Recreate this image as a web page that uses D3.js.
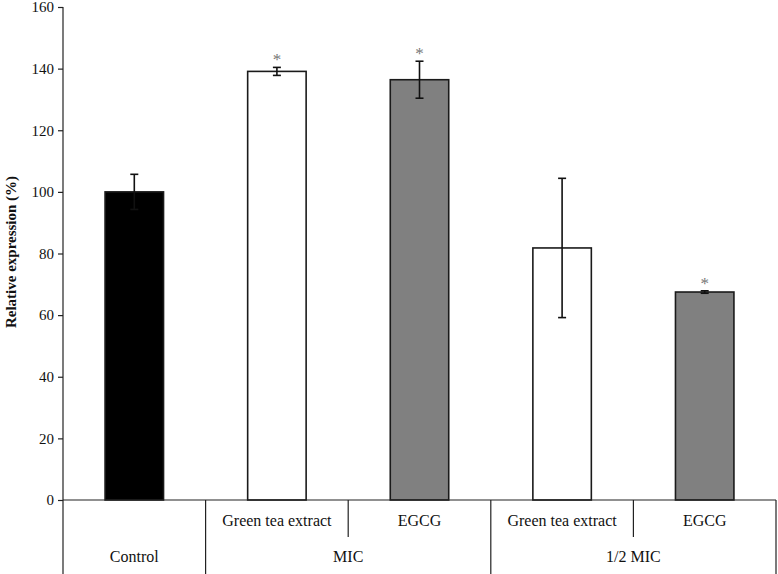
<!DOCTYPE html>
<html>
<head>
<meta charset="utf-8">
<script src="https://cdn.jsdelivr.net/npm/d3@7"></script>
<style>
  html, body { margin: 0; padding: 0; background: #fff; }
</style>
</head>
<body>
<svg id="chart" width="778" height="574"></svg>
<script>
// ---- data ----
const categories = ["Control", "MIC|Green tea extract", "MIC|EGCG", "1/2 MIC|Green tea extract", "1/2 MIC|EGCG"];
const subLabels = ["", "Green tea extract", "EGCG", "Green tea extract", "EGCG"];
const groupLabels = ["Control", "MIC", "1/2 MIC"];
const groupSpans = [[0, 1], [1, 3], [3, 5]];
const values = [100, 139.1, 136.4, 81.8, 67.5];
const errors = [5.7, 1.3, 6.0, 22.6, 0.4];
const significant = [false, true, true, false, true];
const fills = ["#000000", "#ffffff", "#808080", "#ffffff", "#808080"];
const yTicks = [0, 20, 40, 60, 80, 100, 120, 140, 160];

(function () {
const FONT = "Liberation Serif";
const svg = d3.select("#chart");
const mLeft = 63, mRight = 776, mTop = 7, mBottom = 500;

const x = d3.scaleBand().domain(categories).range([mLeft, mRight]).paddingInner(0).paddingOuter(0);
const y = d3.scaleLinear().domain([0, 160]).range([mBottom, mTop]);
const barW = x.bandwidth() * 0.41;

// y axis
const yAxis = d3.axisLeft(y).tickValues(yTicks).tickSize(5).tickPadding(4).tickFormat(d3.format("d"));
const ya = svg.append("g").attr("transform", `translate(${mLeft},0)`).call(yAxis);
ya.select(".domain").remove();
ya.selectAll(".tick line").attr("stroke", "#222").attr("stroke-width", 1.2);
ya.selectAll(".tick text").style("font-family", FONT).style("font-size", "15px").attr("fill", "#111");
svg.append("line").attr("x1", mLeft).attr("x2", mLeft).attr("y1", mTop).attr("y2", 574)
  .attr("stroke", "#222").attr("stroke-width", 1.2);

// y label
svg.append("text")
  .attr("transform", `translate(16,252) rotate(-90)`)
  .attr("text-anchor", "middle")
  .style("font-family", FONT).style("font-size", "15px").style("font-weight", "bold").attr("fill", "#111")
  .text("Relative expression (%)");

// bars
const cx = c => x(c) + x.bandwidth() / 2;
svg.append("g").selectAll("rect").data(categories).join("rect")
  .attr("x", (c) => cx(c) - barW / 2)
  .attr("y", (c, i) => y(values[i]))
  .attr("width", barW)
  .attr("height", (c, i) => y(0) - y(values[i]))
  .attr("fill", (c, i) => fills[i])
  .attr("stroke", "#1a1a1a").attr("stroke-width", 1.6);

// error bars
const eb = svg.append("g").attr("stroke", "#111").attr("stroke-width", 1.6);
categories.forEach((c, i) => {
  const hi = y(values[i] + errors[i]), lo = y(values[i] - errors[i]);
  eb.append("line").attr("x1", cx(c)).attr("x2", cx(c)).attr("y1", hi).attr("y2", lo);
  eb.append("line").attr("x1", cx(c) - 4).attr("x2", cx(c) + 4).attr("y1", hi).attr("y2", hi);
  eb.append("line").attr("x1", cx(c) - 4).attr("x2", cx(c) + 4).attr("y1", lo).attr("y2", lo);
  if (significant[i]) {
    svg.append("text").attr("x", cx(c)).attr("y", hi - 2)
      .attr("text-anchor", "middle").style("font-family", FONT).style("font-size", "17px").attr("fill", "#777")
      .text("*");
  }
});

// category table
const grid = svg.append("g").attr("stroke", "#222").attr("stroke-width", 1.2);
grid.append("line").attr("x1", mLeft).attr("x2", mRight).attr("y1", mBottom).attr("y2", mBottom);
groupSpans.forEach(([s, e]) => {
  const xe = e < categories.length ? x(categories[e]) : mRight;
  grid.append("line").attr("x1", xe).attr("x2", xe).attr("y1", mBottom).attr("y2", 574);
});
groupSpans.forEach(([s, e]) => {
  for (let k = s + 1; k < e; k++) {
    const xk = x(categories[k]);
    grid.append("line").attr("x1", xk).attr("x2", xk).attr("y1", mBottom).attr("y2", 537);
  }
});
categories.forEach((c, i) => {
  if (subLabels[i]) {
    svg.append("text").attr("x", cx(c)).attr("y", 526)
      .attr("text-anchor", "middle").style("font-family", FONT).style("font-size", "16px").attr("fill", "#111")
      .text(subLabels[i]);
  }
});
groupSpans.forEach(([s, e], g) => {
  const x0 = x(categories[s]);
  const x1 = e < categories.length ? x(categories[e]) : mRight;
  svg.append("text").attr("x", (x0 + x1) / 2).attr("y", 562)
    .attr("text-anchor", "middle").style("font-family", FONT).style("font-size", "16px").attr("fill", "#111")
    .text(groupLabels[g]);
});
})();
</script>
</body>
</html>
